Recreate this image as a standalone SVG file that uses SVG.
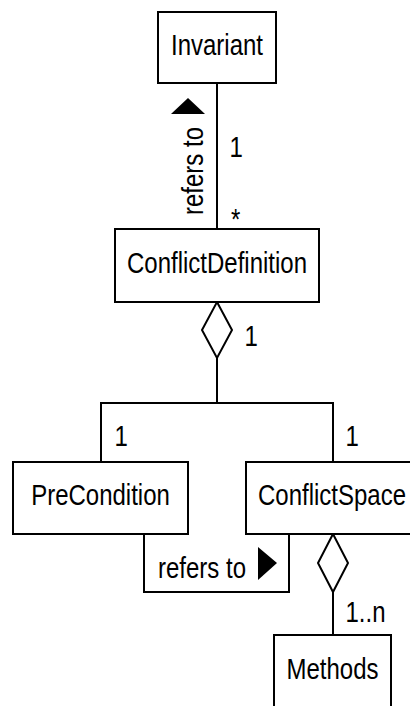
<svg xmlns="http://www.w3.org/2000/svg" width="410" height="706" viewBox="0 0 410 706">
  <style>
    .box { fill: #fff; stroke: #000; stroke-width: 2; }
    .edge { fill: none; stroke: #000; stroke-width: 2; }
    .agg { fill: #fff; stroke: #000; stroke-width: 2; stroke-linejoin: miter; }
    .dir { fill: #000; stroke: none; }
    text { font-family: "Liberation Sans", Arial, sans-serif; font-size: 24px; fill: #000; }
    .c { text-anchor: middle; }
  </style>
  <rect width="410" height="706" fill="#fff"/>

  <!-- connectors -->
  <g id="connectors">
    <!-- ConflictDefinition refers to Invariant -->
    <line class="edge" x1="217" y1="83" x2="217" y2="229"/>
    <polygon class="dir" points="188,98 205,114 171,114"/>
    <text class="c" transform="translate(203,171) rotate(-90) scale(1,1.2)">refers to</text>
    <text transform="translate(229.5,157) scale(1,1.2)">1</text>
    <text transform="translate(231,229) scale(1,1.2)">*</text>

    <!-- ConflictDefinition aggregates PreCondition and ConflictSpace -->
    <polygon class="agg" points="217,302 232,330 217,358 202,330"/>
    <line class="edge" x1="217" y1="358" x2="217" y2="403"/>
    <polyline class="edge" points="101,462 101,403 333,403 333,462"/>
    <text transform="translate(244.5,346) scale(1,1.2)">1</text>
    <text transform="translate(114.5,446) scale(1,1.2)">1</text>
    <text transform="translate(345.5,446) scale(1,1.2)">1</text>

    <!-- PreCondition refers to ConflictSpace -->
    <polyline class="edge" points="144,534 144,592 289,592 289,534"/>
    <text class="c" transform="translate(202,578) scale(1,1.2)">refers to</text>
    <polygon class="dir" points="258,547 277,563 258,580"/>

    <!-- ConflictSpace aggregates Methods -->
    <polygon class="agg" points="333,534 348,563 333,592 318,563"/>
    <line class="edge" x1="333" y1="592" x2="333" y2="635"/>
    <text transform="translate(345.5,622) scale(1,1.2)">1..n</text>
  </g>

  <!-- nodes -->
  <g id="invariant">
    <rect class="box" x="158" y="12" width="118" height="71"/>
    <text class="c" transform="translate(217,55) scale(1,1.2)">Invariant</text>
  </g>
  <g id="conflict-definition">
    <rect class="box" x="115" y="229" width="204" height="73"/>
    <text class="c" transform="translate(217,273) scale(1,1.2)">ConflictDefinition</text>
  </g>
  <g id="precondition">
    <rect class="box" x="13" y="462" width="175" height="72"/>
    <text class="c" transform="translate(100.5,505) scale(1,1.2)">PreCondition</text>
  </g>
  <g id="conflict-space">
    <rect class="box" x="246" y="462" width="174" height="72"/>
    <text class="c" transform="translate(332,505) scale(1,1.2)">ConflictSpace</text>
  </g>
  <g id="methods">
    <rect class="box" x="274" y="635" width="117" height="80"/>
    <text class="c" transform="translate(332.5,679) scale(1,1.2)">Methods</text>
  </g>
</svg>
